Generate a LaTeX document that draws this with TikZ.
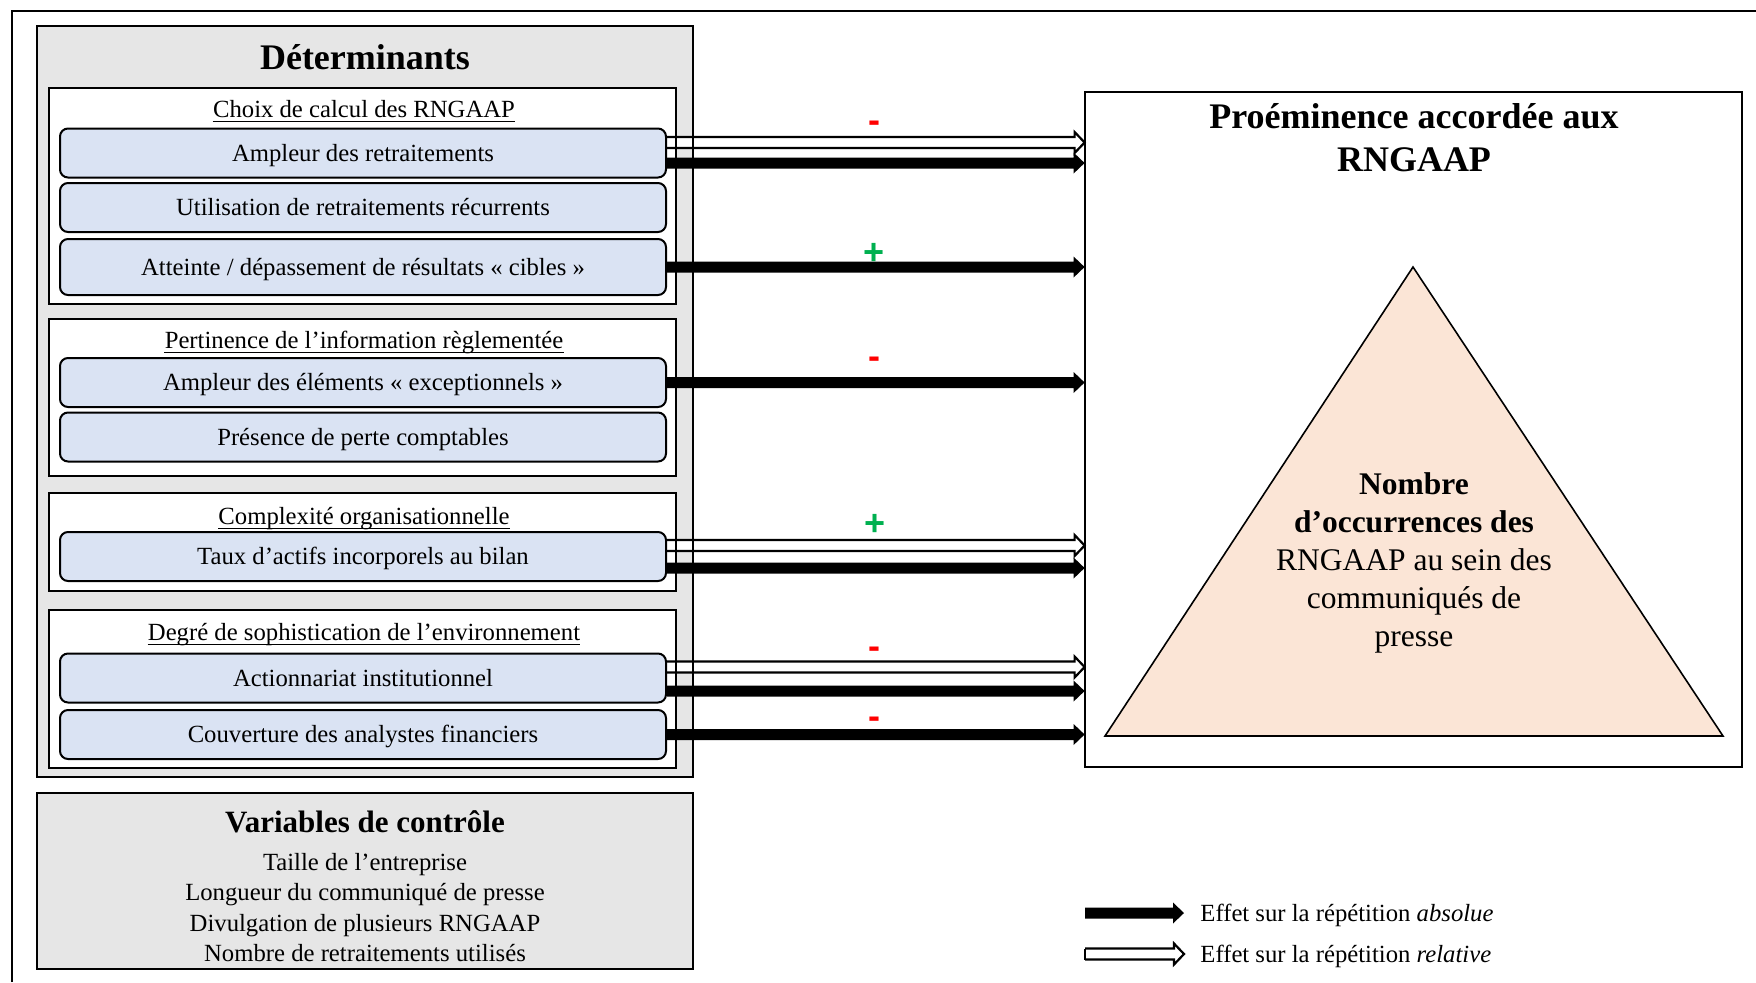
\documentclass[tikz,border=0pt]{standalone}
\usepackage{fontspec}
\setmainfont{Liberation Serif}
\newfontfamily\signfont{Liberation Sans}
\usetikzlibrary{calc}
\definecolor{boxgray}{RGB}{230,230,230}
\definecolor{boxblue}{RGB}{218,227,243}
\definecolor{peach}{RGB}{251,229,214}
\definecolor{signred}{RGB}{255,0,0}
\definecolor{signgreen}{RGB}{0,176,80}
\pgfdeclarelayer{bg}
\pgfdeclarelayer{arr}
\pgfsetlayers{bg,arr,main}
\newcommand\blkarrow[2]{%
  \fill[black] ($(#1)+(0,-5.5)$) -- ($(#2)+(-11,-5.5)$) -- ($(#2)+(-11,-10.5)$) -- (#2)
    -- ($(#2)+(-11,10.5)$) -- ($(#2)+(-11,5.5)$) -- ($(#1)+(0,5.5)$) -- cycle;}
\newcommand\whtarrow[2]{%
  \draw[whitearr] ($(#1)+(0,-5.5)$) -- ($(#2)+(-10,-5.5)$) -- ($(#2)+(-10,-10.5)$) -- (#2)
    -- ($(#2)+(-10,10.5)$) -- ($(#2)+(-10,5.5)$) -- ($(#1)+(0,5.5)$);}
\newcommand\ulabel[1]{\draw[line width=0.6pt] ([yshift=-2.2pt]#1.base west) -- ([yshift=-2.2pt]#1.base east);}
\begin{document}
\begin{tikzpicture}[x=0.5pt,y=-0.5pt,
  bodyfont/.style={font=\fontsize{12.35pt}{15.2pt}\selectfont},
  fixedtext/.style={text height=9pt, text depth=0.8pt},
  item/.style={draw=black, line width=1pt, fill=boxblue, rounded corners=4pt,
    minimum width=303pt, minimum height=24.5pt, inner sep=0pt, bodyfont, fixedtext},
  panel/.style={fill=#1, inner sep=0pt},
  grouplabel/.style={bodyfont, inner sep=0pt, fixedtext},
  sign/.style={font=\signfont\bfseries\fontsize{18pt}{18pt}\selectfont, inner sep=0pt},
  border/.style={draw=black, line width=1pt},
  whitearr/.style={draw=black, fill=white, line width=1.1pt, line join=miter}]
\useasboundingbox (0,0) rectangle (1756,982);
% outer frame
\draw[line width=1pt] (12,982) -- (12,11) -- (1756,11);
% panel fills
\begin{pgfonlayer}{bg}
\node[panel=boxgray, minimum width=328pt, minimum height=375.5pt] (det) at (365,401.5) {};
\node[panel=white, minimum width=313.5pt, minimum height=108pt] (g1) at (362.5,196) {};
\node[panel=white, minimum width=313.5pt, minimum height=78.5pt] (g2) at (362.5,397.5) {};
\node[panel=white, minimum width=313.5pt, minimum height=49pt] (g3) at (362.5,542) {};
\node[panel=white, minimum width=313.5pt, minimum height=79pt] (g4) at (362.5,689) {};
\node[panel=white, minimum width=328.5pt, minimum height=337.5pt] (prom) at (1413.5,429.5) {};
\node[panel=boxgray, minimum width=328pt, minimum height=88pt] (var) at (365,881) {};
\end{pgfonlayer}
% titles and labels
\node[font=\bfseries\fontsize{18pt}{21.5pt}\selectfont] (dettitle) at (365,57) {Déterminants};
\node[grouplabel] (l1) at (364,109) {Choix de calcul des RNGAAP};
\node[grouplabel] (l2) at (364,340) {Pertinence de l’information règlementée};
\node[grouplabel] (l3) at (364,516) {Complexité organisationnelle};
\node[grouplabel] (l4) at (364,632) {Degré de sophistication de l’environnement};
\ulabel{l1}
\ulabel{l2}
\ulabel{l3}
\ulabel{l4}
% items
\node[item] (b1) at (363,153) {Ampleur des retraitements};
\node[item] (b2) at (363,207.5) {Utilisation de retraitements récurrents};
\node[item, minimum height=28pt] (b3) at (363,267) {Atteinte / dépassement de résultats «~cibles~»};
\node[item] (b4) at (363,382.5) {Ampleur des éléments «~exceptionnels~»};
\node[item] (b5) at (363,437) {Présence de perte comptables};
\node[item] (b6) at (363,556.5) {Taux d’actifs incorporels au bilan};
\node[item] (b7) at (363,678) {Actionnariat institutionnel};
\node[item] (b8) at (363,734.5) {Couverture des analystes financiers};
% arrow coordinates
\coordinate (r1s) at ($(b1.east)+(0,-10.5)$); \coordinate (r1t) at (r1s -| prom.west);
\coordinate (a1s) at ($(b1.east)+(0,10)$);    \coordinate (a1t) at (a1s -| prom.west);
\coordinate (a3s) at (b3.east);               \coordinate (a3t) at (a3s -| prom.west);
\coordinate (a4s) at (b4.east);               \coordinate (a4t) at (a4s -| prom.west);
\coordinate (r6s) at ($(b6.east)+(0,-11)$);   \coordinate (r6t) at (r6s -| prom.west);
\coordinate (a6s) at ($(b6.east)+(0,11.5)$);  \coordinate (a6t) at (a6s -| prom.west);
\coordinate (r7s) at ($(b7.east)+(0,-11)$);   \coordinate (r7t) at (r7s -| prom.west);
\coordinate (a7s) at ($(b7.east)+(0,13)$);    \coordinate (a7t) at (a7s -| prom.west);
\coordinate (a8s) at (b8.east);               \coordinate (a8t) at (a8s -| prom.west);
\begin{pgfonlayer}{arr}
\whtarrow{r1s}{r1t}
\blkarrow{a1s}{a1t}
\blkarrow{a3s}{a3t}
\blkarrow{a4s}{a4t}
\whtarrow{r6s}{r6t}
\blkarrow{a6s}{a6t}
\whtarrow{r7s}{r7t}
\blkarrow{a7s}{a7t}
\blkarrow{a8s}{a8t}
\end{pgfonlayer}
% borders
\draw[border] (det.north west) rectangle (det.south east);
\draw[border] (g1.north west) rectangle (g1.south east);
\draw[border] (g2.north west) rectangle (g2.south east);
\draw[border] (g3.north west) rectangle (g3.south east);
\draw[border] (g4.north west) rectangle (g4.south east);
\draw[border] (prom.north west) rectangle (prom.south east);
\draw[border] (var.north west) rectangle (var.south east);
% signs
\node[sign, text=signred] (s1) at (874,127) {-};
\node[sign, text=signgreen] (s2) at (874,254) {+};
\node[sign, text=signred] (s3) at (874,363) {-};
\node[sign, text=signgreen] (s4) at (875,525) {+};
\node[sign, text=signred] (s5) at (874,653) {-};
\node[sign, text=signred] (s6) at (874,723) {-};
% right panel
\node[align=center, font=\bfseries\fontsize{18pt}{21.5pt}\selectfont] (promtitle) at (1414,137.5)
  {Proéminence accordée aux\\RNGAAP};
\draw[fill=peach, line width=0.8pt, line join=miter] (1413,267) coordinate (tri1) -- (1105,736) coordinate (tri2) -- (1723,736) coordinate (tri3) -- cycle;
\node[align=center, font=\fontsize{15.75pt}{19pt}\selectfont] (tritext) at (1414,563)
  {\textbf{Nombre}\\\textbf{d’occurrences des}\\RNGAAP au sein des\\communiqués de\\presse};
% control variables
\node[font=\bfseries\fontsize{15.5pt}{18pt}\selectfont] (vartitle) at (365,822) {Variables de contrôle};
\node[align=center, bodyfont] (varlist) at (365,907.5)
  {Taille de l’entreprise\\Longueur du communiqué de presse\\Divulgation de plusieurs RNGAAP\\Nombre de retraitements utilisés};
% legend
\coordinate (la1) at (1085,913); \coordinate (la2) at (1184,913);
\coordinate (lb1) at (1085,954); \coordinate (lb2) at (1184,954);
\blkarrow{la1}{la2}
\whtarrow{lb1}{lb2}
\draw[line width=1.1pt] ($(lb1)+(0,-5.5)$) -- ($(lb1)+(0,5.5)$);
\node[anchor=west, bodyfont, inner sep=0pt] (leg1) at (1200,915) {Effet sur la répétition \textit{absolue}};
\node[anchor=west, bodyfont, inner sep=0pt] (leg2) at (1200,956) {Effet sur la répétition \textit{relative}};
\end{tikzpicture}
\end{document}
